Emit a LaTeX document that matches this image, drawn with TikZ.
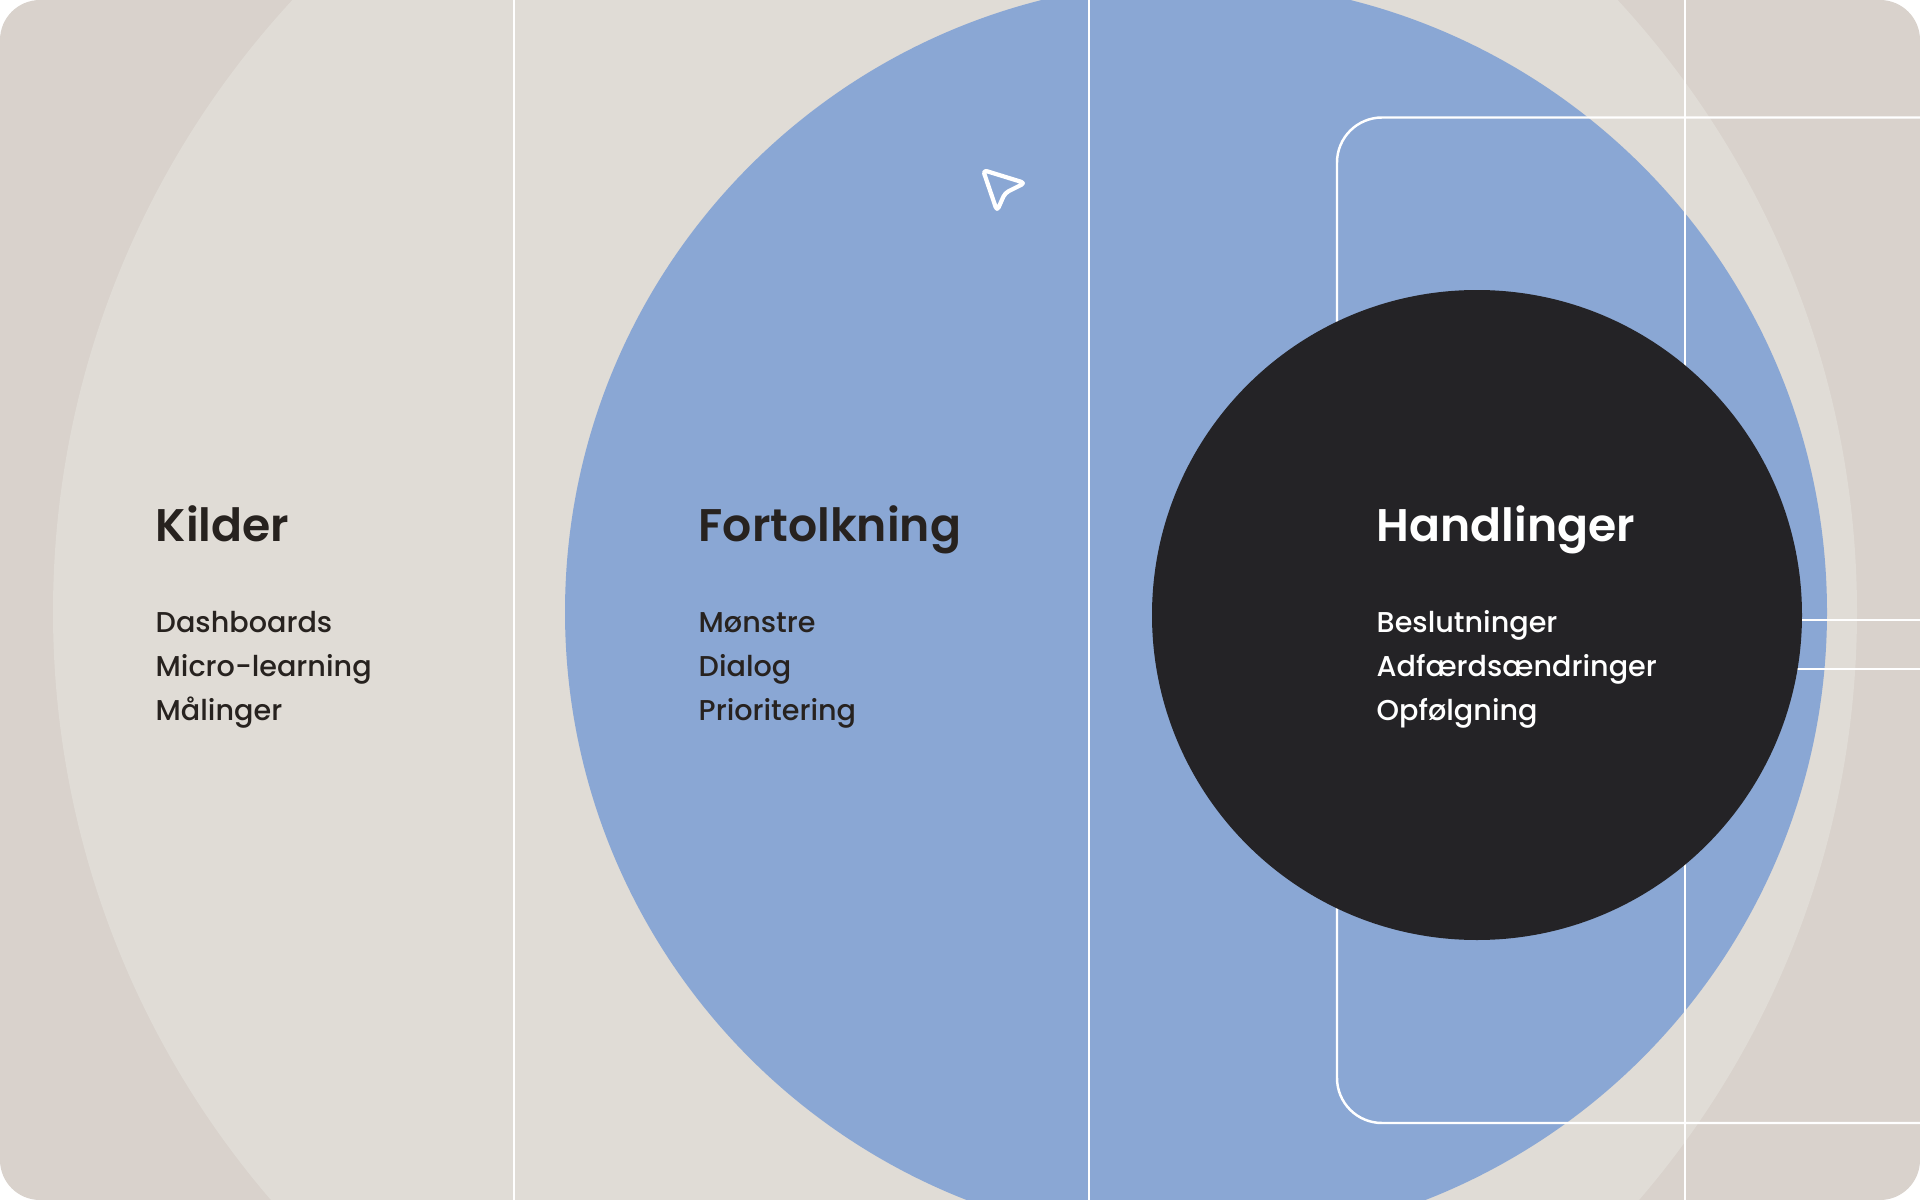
\documentclass[tikz,border=0pt]{standalone}
\usepackage{fontspec}
\setmainfont{Poppins}
\newfontfamily\headfont{Poppins SemiBold}
\newfontfamily\itemfont{Poppins Medium}
\usepackage{tikz}
\usetikzlibrary{positioning}
\usepackage{xcolor}
\definecolor{canvas}{HTML}{D9D2CC}
\definecolor{ring}{HTML}{E0DCD6}
\definecolor{fortblue}{HTML}{8AA7D4}
\definecolor{handdark}{HTML}{242326}
\definecolor{ink}{HTML}{27221F}
\tikzset{%
    % Headings and list items
    head/.style  = {anchor=base west, inner sep=0pt, text=ink,
    font=\headfont\fontsize{13pt}{16pt}\selectfont},
    item/.style  = {anchor=base west, inner sep=0pt, text=ink,
    font=\itemfont\fontsize{8.15pt}{12.5pt}\selectfont},
    % White guide lines
    guide/.style = {draw=white, line width=0.7pt},
}

\begin{document}
\begin{tikzpicture}[x=0.01cm, y=-0.01cm]
	\useasboundingbox (0,0) rectangle (1920,1200);
	\fill[white] (0,0) rectangle (1920,1200);
	\begin{scope}
	\clip[rounded corners=0.4cm] (0,0) rectangle (1920,1200);
	\fill[canvas] (0,0) rectangle (1920,1200);
	% circles
	\coordinate (R) at (955,612);
	\coordinate (B) at (1196,612);
	\coordinate (H) at (1477,615);
	\fill[ring] (R) circle(902);
	\fill[fortblue] (B) circle(631);
	
	% guide lines
	\foreach \x in {514,1089,1685}
		\draw[guide] (\x,0) -- (\x,1200);
	\draw[guide, rounded corners=0.45cm] (1920,117.5) -- (1337,117.5)
		-- (1337,1123) -- (1920,1123);
	\draw[guide] (H) ++(0,5) -- (1920,620);
	\draw[guide] (H) ++(0,54) -- (1920,669);
	\fill[handdark] (H) circle(325);
	\end{scope}
	
	% cursor
	\draw[white, line width=1.2pt, line join=round, rounded corners=0.4mm]
		(983,170) -- (1025,183) -- (1005,193) -- (997,211) -- cycle;
	
	% texts
	\node[head] (kilder) at (155,541) {Kilder};
	\node[head] (fort) at (698,541) {Fortolkning};
	\node[head, text=white] (hand) at (1376,541) {Handlinger};
	\foreach \t [count=\i] in {Dashboards, Micro-learning, Målinger}
		\node[item] (kilder\i) at (155,{632+(\i-1)*44}) {\t};
	\foreach \t [count=\i] in {Mønstre, Dialog, Prioritering}
		\node[item] (fort\i) at (698,{632+(\i-1)*44}) {\t};
	\foreach \t [count=\i] in {Beslutninger, Adfærdsændringer, Opfølgning}
		\node[item, text=white] (hand\i) at (1376,{632+(\i-1)*44}) {\t};
\end{tikzpicture}
\end{document}
